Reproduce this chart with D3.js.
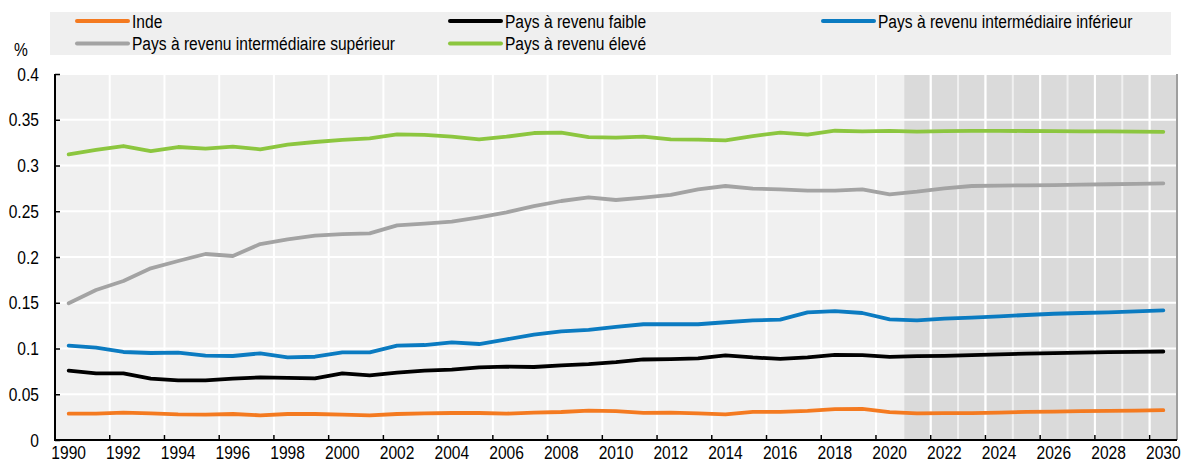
<!DOCTYPE html>
<html>
<head>
<meta charset="utf-8">
<script src="https://cdn.jsdelivr.net/npm/d3@7"></script>
<style>
  html, body { margin: 0; padding: 0; background: #ffffff; }
  svg { display: block; }
</style>
</head>
<body>
<svg id="chart" width="1186" height="464"></svg>
<script>
// ---------- DATA ----------
const years = [1990,1991,1992,1993,1994,1995,1996,1997,1998,1999,2000,2001,2002,2003,2004,2005,2006,2007,2008,2009,
  2010,2011,2012,2013,2014,2015,2016,2017,2018,2019,2020,2021,2022,2023,2024,2025,2026,2027,2028,2029,2030];
const tickYears = [1990,1992,1994,1996,1998,2000,2002,2004,2006,2008,2010,2012,2014,2016,2018,2020,2022,2024,2026,2028,2030];
const projectionYears = [2021,2022,2023,2024,2025,2026,2027,2028,2029,2030];
const yTicks = [0, 0.05, 0.1, 0.15, 0.2, 0.25, 0.3, 0.35, 0.4];
const yTickLabels = ["0","0.05","0.1","0.15","0.2","0.25","0.3","0.35","0.4"];
const seriesNames = ["Inde","Pays à revenu faible","Pays à revenu intermédiaire inférieur","Pays à revenu intermédiaire supérieur","Pays à revenu élevé"];

const inde = [0.0288,0.0288,0.0299,0.0292,0.0281,0.0277,0.0284,0.0270,0.0284,0.0284,0.0277,0.0270,0.0284,0.0292,0.0295,0.0295,0.0288,0.0299,0.0306,0.0322,
  0.0315,0.0297,0.0300,0.0290,0.0279,0.0308,0.0308,0.0319,0.0337,0.0340,0.0304,0.0290,0.0293,0.0293,0.0300,0.0308,0.0311,0.0315,0.0318,0.0322,0.0326];
const faible = [0.0758,0.0729,0.0729,0.0670,0.0652,0.0652,0.0670,0.0685,0.0678,0.0674,0.0729,0.0707,0.0736,0.0758,0.0769,0.0794,0.0801,0.0798,0.0816,0.0830,
  0.0851,0.0880,0.0884,0.0891,0.0924,0.0902,0.0887,0.0902,0.0931,0.0928,0.0909,0.0916,0.0920,0.0928,0.0935,0.0945,0.0949,0.0956,0.0960,0.0964,0.0967];
const inferieur = [0.1031,0.1009,0.0962,0.0951,0.0954,0.0922,0.0918,0.0947,0.0903,0.0910,0.0958,0.0958,0.1031,0.1038,0.1067,0.1049,0.1100,0.1151,0.1187,0.1204,
  0.1236,0.1265,0.1265,0.1265,0.1287,0.1308,0.1315,0.1394,0.1409,0.1388,0.1319,0.1308,0.1326,0.1337,0.1352,0.1366,0.1380,0.1388,0.1395,0.1405,0.1416];
const superieur = [0.1494,0.1640,0.1738,0.1876,0.1956,0.2033,0.2011,0.2142,0.2193,0.2233,0.2251,0.2259,0.2346,0.2364,0.2386,0.2434,0.2488,0.2557,0.2612,0.2652,
  0.2623,0.2648,0.2678,0.2740,0.2776,0.2747,0.2740,0.2725,0.2725,0.2740,0.2685,0.2714,0.2750,0.2776,0.2780,0.2783,0.2786,0.2790,0.2795,0.2800,0.2805];
const eleve = [0.3122,0.3170,0.3213,0.3158,0.3202,0.3184,0.3206,0.3177,0.3228,0.3257,0.3279,0.3297,0.3340,0.3335,0.3315,0.3286,0.3315,0.3355,0.3359,0.3311,
  0.3304,0.3315,0.3286,0.3282,0.3275,0.3322,0.3359,0.3337,0.3380,0.3373,0.3378,0.3370,0.3375,0.3378,0.3378,0.3377,0.3376,0.3374,0.3372,0.3370,0.3368];

const colors = ["#f47a20","#000000","#0b7bc1","#a3a3a3","#8cc63f"];

// ---------- FONT ----------
function hasFont(name) {
  const c = document.createElement("canvas").getContext("2d");
  const s = "abcdefghijklmnopqrstuvwxyz 1990";
  c.font = "40px monospace"; const a = c.measureText(s).width;
  c.font = "40px '" + name + "', monospace"; const b = c.measureText(s).width;
  return Math.abs(a - b) > 0.5;
}
const narrow = hasFont("Liberation Sans Narrow");
const FONT = narrow ? "'Liberation Sans Narrow', 'Arial Narrow', sans-serif" : "'Liberation Sans', Arial, sans-serif";
const FS = 19;

// ---------- LAYOUT ----------
const svg = d3.select("#chart");
const mLeft = 55, mRight = 1177, mTop = 74, mBottom = 440;

const x = d3.scaleBand().domain(years).range([mLeft, mRight]).padding(0);
const bw = x.bandwidth();
const xc = d => x(d) + bw / 2;
const y = d3.scaleLinear().domain([0, 0.4]).range([mBottom, mTop]);

// plot background
svg.append("rect").attr("x", mLeft).attr("y", mTop).attr("width", mRight - mLeft).attr("height", mBottom - mTop).attr("fill", "#f0f0f0");

// projection shading (one column per year)
svg.append("g").selectAll("rect").data(projectionYears).join("rect")
  .attr("x", d => x(d) + 1).attr("y", mTop).attr("width", bw - 2).attr("height", mBottom - mTop)
  .attr("fill", "#dadada");

// gridlines
const grid = svg.append("g");
grid.selectAll("line.h").data(yTicks.slice(1)).join("line").attr("class", "h")
  .attr("x1", mLeft).attr("x2", mRight).attr("y1", d => y(d)).attr("y2", d => y(d))
  .attr("stroke", "#ffffff").attr("stroke-width", 2);
grid.selectAll("line.v").data(tickYears.slice(1)).join("line").attr("class", "v")
  .attr("x1", d => x(d)).attr("x2", d => x(d)).attr("y1", mTop).attr("y2", mBottom)
  .attr("stroke", "#ffffff").attr("stroke-width", 2);

// right border
svg.append("line").attr("x1", mRight).attr("x2", mRight).attr("y1", mTop).attr("y2", mBottom)
  .attr("stroke", "#9e9e9e").attr("stroke-width", 2);

// lines
const seriesData = [inde, faible, inferieur, superieur, eleve];
const line = d3.line().x((d, i) => xc(years[i])).y(d => y(d)).curve(d3.curveLinear);
const drawOrder = [3, 4, 2, 1, 0];
svg.append("g").selectAll("path").data(drawOrder).join("path")
  .attr("d", k => line(seriesData[k]))
  .attr("fill", "none").attr("stroke", k => colors[k]).attr("stroke-width", 3.8)
  .attr("stroke-linejoin", "round").attr("stroke-linecap", "round");

// y axis
const yAxis = d3.axisLeft(y).tickValues(yTicks).tickFormat((d, i) => yTickLabels[i]).tickSize(-5).tickPadding(16);
const gy = svg.append("g").attr("transform", `translate(${mLeft},0)`).call(yAxis);
gy.select(".domain").remove();
gy.selectAll(".tick line").attr("stroke", "#000").attr("stroke-width", 1.5);
gy.selectAll("text").attr("font-family", FONT).attr("font-size", FS).attr("fill", "#000");
svg.append("line").attr("x1", mLeft).attr("x2", mLeft).attr("y1", mTop).attr("y2", mBottom)
  .attr("stroke", "#000").attr("stroke-width", 2);

// x axis
const xAxis = d3.axisBottom(x).tickValues(tickYears).tickSize(0).tickPadding(6);
const gx = svg.append("g").attr("transform", `translate(0,${mBottom})`).call(xAxis);
gx.select(".domain").remove();
gx.selectAll("text").attr("font-family", FONT).attr("font-size", FS).attr("fill", "#000");
svg.append("g").selectAll("line").data(tickYears.slice(1)).join("line")
  .attr("x1", d => x(d)).attr("x2", d => x(d)).attr("y1", mBottom).attr("y2", mBottom - 5)
  .attr("stroke", "#000").attr("stroke-width", 1.5);
svg.append("line").attr("x1", mLeft - 1).attr("x2", mRight).attr("y1", mBottom).attr("y2", mBottom)
  .attr("stroke", "#000").attr("stroke-width", 2);

// unit label
svg.append("text").attr("x", 14).attr("y", 56).text("%")
  .attr("font-family", FONT).attr("font-size", FS).attr("fill", "#000");

// legend
svg.append("rect").attr("x", 50).attr("y", 12).attr("width", 1121).attr("height", 43).attr("fill", "#efefef");
const legendPos = [[77, 21], [450, 21], [823, 21], [77, 43.5], [450, 43.5]];
const lg = svg.append("g").selectAll("g").data(seriesNames).join("g")
  .attr("transform", (d, i) => `translate(${legendPos[i][0]},${legendPos[i][1]})`);
lg.append("line").attr("x1", 0).attr("x2", 51).attr("y1", 0).attr("y2", 0)
  .attr("stroke", (d, i) => colors[i]).attr("stroke-width", 4).attr("stroke-linecap", "round");
lg.append("text").attr("x", 55).attr("y", 0).attr("dy", "0.35em").text(d => d)
  .attr("font-family", FONT).attr("font-size", FS).attr("fill", "#000");

// condense text horizontally (about its anchor point) if the narrow font is unavailable
if (!narrow) {
  const s = 0.82;
  svg.selectAll("text").each(function () {
    const ax = +(this.getAttribute("x") || 0);
    d3.select(this).attr("transform", `translate(${ax},0) scale(${s},1) translate(${-ax},0)`);
  });
}
</script>
</body>
</html>
